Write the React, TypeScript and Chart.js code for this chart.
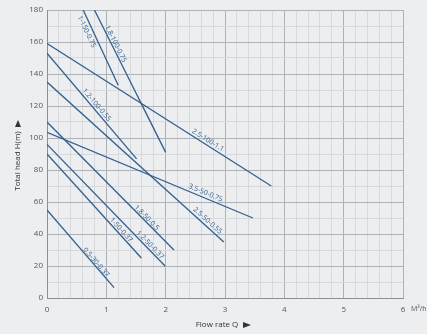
import React, { useEffect, useRef } from "react";
import { Chart, registerables } from "chart.js";

Chart.register(...registerables);

// Pump curves: name, start and end points (flow m³/h, head m)
const lineNames = [
  "1-150-0.75",
  "1.8-100-0.75",
  "2.5-100-1.1",
  "1.2-100-0.55",
  "2.5-50-0.55",
  "1.8-50-0.5",
  "3.5-50-0.75",
  "1.2-50-0.37",
  "1-50-0.37",
  "0.5-30-0.37",
];
const flowStart = [0.61, 0.8, 0, 0, 0, 0, 0, 0, 0, 0];
const headStart = [180, 180, 159, 153, 135, 110, 103.5, 96, 90, 55];
const flowEnd = [1.2, 2.0, 3.78, 1.51, 2.98, 2.14, 3.47, 1.99, 1.59, 1.13];
const headEnd = [133, 91, 70, 87, 35, 30, 50, 20, 25, 6.5];

const xTickLabels = ["0", "1", "2", "3", "4", "5", "6"];
const yTickLabels = ["0", "20", "40", "60", "80", "100", "120", "140", "160", "180"];

// label placement (flow value of label centre along its line, perpendicular px offset)
const labelFlow = [0.76, 1.1, 2.67, 0.78, 2.65, 1.64, 2.64, 1.69, 1.2, 0.79];
const labelOffset = [-6, 3.8, 4.6, 4.4, 5, 3.4, 5, 4, 3.9, 3];

const LINE_COLOR = "#33608f";
const FONT = "'Open Sans', 'DejaVu Sans', sans-serif";

const isInt = (v: number) => Math.abs(v - Math.round(v)) < 1e-6;

const decorPlugin = {
  id: "decor",
  beforeDraw(chart: any) {
    const { ctx, width, height } = chart;
    ctx.save();
    ctx.fillStyle = "#eceef0";
    ctx.fillRect(0, 0, width, height);
    ctx.restore();
  },
  afterDatasetsDraw(chart: any) {
    const { ctx } = chart;
    const xs = chart.scales.x;
    const ys = chart.scales.y;
    ctx.save();
    ctx.fillStyle = LINE_COLOR;
    ctx.font = `7px ${FONT}`;
    ctx.textAlign = "center";
    ctx.textBaseline = "middle";
    chart.data.datasets.forEach((ds: any, i: number) => {
      const p0 = ds.data[0];
      const p1 = ds.data[1];
      const x0 = xs.getPixelForValue(p0.x);
      const y0 = ys.getPixelForValue(p0.y);
      const x1 = xs.getPixelForValue(p1.x);
      const y1 = ys.getPixelForValue(p1.y);
      const ang = Math.atan2(y1 - y0, x1 - x0);
      const t = (labelFlow[i] - p0.x) / (p1.x - p0.x);
      const hx = p0.x + t * (p1.x - p0.x);
      const hy = p0.y + t * (p1.y - p0.y);
      const px = xs.getPixelForValue(hx);
      const py = ys.getPixelForValue(hy);
      ctx.save();
      ctx.translate(px, py);
      ctx.rotate(ang);
      ctx.fillText(ds.label, 0, -labelOffset[i]);
      ctx.restore();
    });
    ctx.restore();
  },
  afterDraw(chart: any) {
    const { ctx, chartArea } = chart;
    ctx.save();
    ctx.fillStyle = "#333";
    ctx.font = `8px ${FONT}`;
    ctx.textAlign = "center";
    ctx.textBaseline = "middle";
    // y title
    ctx.save();
    ctx.translate(18, 161);
    ctx.rotate(-Math.PI / 2);
    ctx.fillText("Total head H(m)", 0, 0);
    ctx.restore();
    // y arrow
    ctx.beginPath();
    ctx.moveTo(18, 120);
    ctx.lineTo(21, 127);
    ctx.lineTo(15, 127);
    ctx.closePath();
    ctx.fill();
    // x title
    const cx = 217;
    ctx.fillText("Flow rate Q", cx, 325);
    ctx.beginPath();
    ctx.moveTo(243, 322);
    ctx.lineTo(251, 325);
    ctx.lineTo(243, 328);
    ctx.closePath();
    ctx.fill();
    // unit
    ctx.font = `7px ${FONT}`;
    ctx.fillStyle = "#555";
    ctx.textAlign = "left";
    ctx.fillText("M³/h", chartArea.right + 8, 309);
    ctx.restore();
  },
};

export default function App() {
  const ref = useRef<HTMLCanvasElement | null>(null);
  useEffect(() => {
    if (!ref.current) return;
    const datasets = lineNames.map((name, i) => ({
      label: name,
      data: [
        { x: flowStart[i], y: headStart[i] },
        { x: flowEnd[i], y: headEnd[i] },
      ],
      showLine: true,
      borderColor: LINE_COLOR,
      backgroundColor: LINE_COLOR,
      borderWidth: 1.3,
      pointRadius: 0,
      tension: 0,
    }));
    const gridColor = (c: any, step: number) => {
      const v = c.tick ? c.tick.value : 0;
      return isInt(v / step) ? "#aeb1b5" : "#d7d9dc";
    };
    const chart = new Chart(ref.current, {
      type: "scatter",
      data: { datasets },
      options: {
        animation: false,
        responsive: false,
        devicePixelRatio: 1,
        layout: { padding: { left: 0, right: 24, top: 10, bottom: 0 } },
        plugins: { legend: { display: false }, tooltip: { enabled: false } },
        scales: {
          x: {
            type: "linear",
            min: 0,
            max: 6,
            afterFit: (s: any) => {
              s.height = 36;
            },
            border: { display: true, color: "#8c8f93", width: 1 },
            grid: {
              color: (c: any) => gridColor(c, 1),
              lineWidth: 1,
              drawTicks: false,
            },
            ticks: {
              stepSize: 0.2,
              autoSkip: false,
              maxRotation: 0,
              padding: 7,
              color: "#555",
              font: { family: FONT, size: 8 },
              callback: (v: any) => {
                const n = Number(v);
                if (!isInt(n)) return "";
                return xTickLabels[Math.round(n)] ?? "";
              },
            },
          },
          y: {
            type: "linear",
            min: 0,
            max: 180,
            afterFit: (s: any) => {
              s.width = 47;
            },
            border: { display: true, color: "#8c8f93", width: 1 },
            grid: {
              color: (c: any) => gridColor(c, 20),
              lineWidth: 1,
              drawTicks: false,
            },
            ticks: {
              stepSize: 10,
              autoSkip: false,
              padding: 4,
              color: "#555",
              font: { family: FONT, size: 8 },
              callback: (v: any) => {
                const n = Number(v);
                if (!isInt(n / 20)) return "";
                return yTickLabels[Math.round(n / 20)] ?? "";
              },
            },
          },
        },
      },
      plugins: [decorPlugin],
    });
    return () => chart.destroy();
  }, []);
  return (
    <div style={{ position: "fixed", left: 0, top: 0, width: 427, height: 334, background: "#eceef0" }}>
      <canvas ref={ref} width={427} height={334} style={{ display: "block" }} />
    </div>
  );
}
